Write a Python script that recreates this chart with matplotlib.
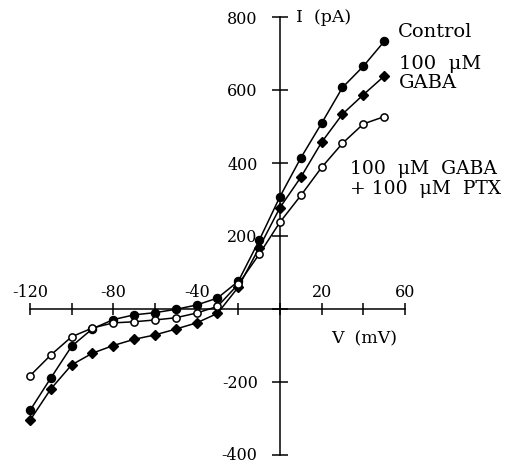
import matplotlib
matplotlib.use('Agg')
from matplotlib import pyplot as plt

# membrane voltage (mV) and currents (pA)
voltage = [-120, -110, -100, -90, -80, -70, -60, -50, -40, -30, -20, -10, 0, 10, 20, 30, 40, 50]
control = [-278, -189, -102, -54, -29, -16, -10, -1, 11, 30, 76, 188, 308, 414, 509, 607, 665, 733]
gaba = [-305, -219, -153, -121, -100, -83, -71, -55, -38, -12, 60, 168, 278, 361, 457, 534, 587, 638]
gaba_ptx = [-183, -126, -76, -52, -38, -35, -30, -24, -11, 7, 68, 150, 238, 311, 388, 454, 507, 527]

x_ticks = [-120, -100, -80, -60, -40, -20, 0, 20, 40, 60]
x_ticklabels = ['-120', '', '-80', '', '-40', '', '', '20', '', '60']
y_ticks = [-400, -200, 0, 200, 400, 600, 800]
# the bottom label sits at the edge of the picture, it is written separately below
y_ticklabels = ['', '-200', '', '200', '400', '600', '800']

W, H = 509, 463
fig = plt.figure(figsize=(W/100., H/100.), dpi=100)
ax = fig.add_axes([0, 0, 1, 1])
ax.patch.set_alpha(0)

# pixel mapping: -120 mV at x=30, 60 mV at x=405 ; 800 pA at y=17, -400 pA at y=455
ax.set_xlim(-120 - 30/2.0833, -120 + (W - 30)/2.0833)
ax.set_ylim(800 - (H - 17)/0.365, 800 + 17/0.365)

lw = 1.1
ax.plot(voltage, control, '-', color='k', lw=lw, marker='o', ms=5.8, mfc='k', mec='k', zorder=3)
ax.plot(voltage, gaba, '-', color='k', lw=lw, marker='D', ms=5.5, mfc='k', mec='k', zorder=3)
ax.plot(voltage, gaba_ptx, '-', color='k', lw=lw, marker='o', ms=5.2, mfc='white', mec='k', mew=1.1, zorder=4)

# axes through the origin
for s in ['right', 'bottom']:
    ax.spines[s].set_visible(False)
ax.spines['left'].set_position(('data', 0))
ax.spines['top'].set_position(('data', 0))
ax.spines['left'].set_bounds(-400, 800)
ax.spines['top'].set_bounds(-120, 60)
for s in ['left', 'top']:
    ax.spines[s].set_linewidth(1.1)

font = 'DejaVu Serif'
ax.xaxis.set_ticks_position('top')
ax.yaxis.set_ticks_position('left')
ax.set_xticks(x_ticks)
ax.set_xticklabels(x_ticklabels)
ax.set_yticks(y_ticks)
ax.set_yticklabels(y_ticklabels)
ax.tick_params(axis='x', direction='inout', length=8.6, width=1.1, pad=1.5, labelsize=11.5)
ax.tick_params(axis='y', direction='inout', length=12, width=1.1, pad=10, labelsize=11.5)
for lab in ax.get_xticklabels() + ax.get_yticklabels():
    lab.set_family(font)

tr = ax.transAxes
def px(x, y):
    return x/float(W), 1 - y/float(H)

ax.text(*px(257, 460), '-400', transform=tr, family=font, fontsize=11.5, va='baseline', ha='right')
ax.text(*px(296, 17), 'I  (pA)', transform=tr, family=font, fontsize=12.5, va='center', ha='left')
ax.text(*px(331, 339), 'V  (mV)', transform=tr, family=font, fontsize=12.5, va='center', ha='left')
ax.text(*px(398, 32), 'Control', transform=tr, family=font, fontsize=14, va='center', ha='left')
ax.text(*px(399, 64), '100  \u03bcM', transform=tr, family=font, fontsize=14, va='center', ha='left')
ax.text(*px(399, 83), 'GABA', transform=tr, family=font, fontsize=14, va='center', ha='left')
ax.text(*px(350, 169), '100  \u03bcM  GABA', transform=tr, family=font, fontsize=13.5, va='center', ha='left')
ax.text(*px(350, 189), '+ 100  \u03bcM  PTX', transform=tr, family=font, fontsize=13.5, va='center', ha='left')

plt.savefig('out.png', dpi=100)
plt.close()
